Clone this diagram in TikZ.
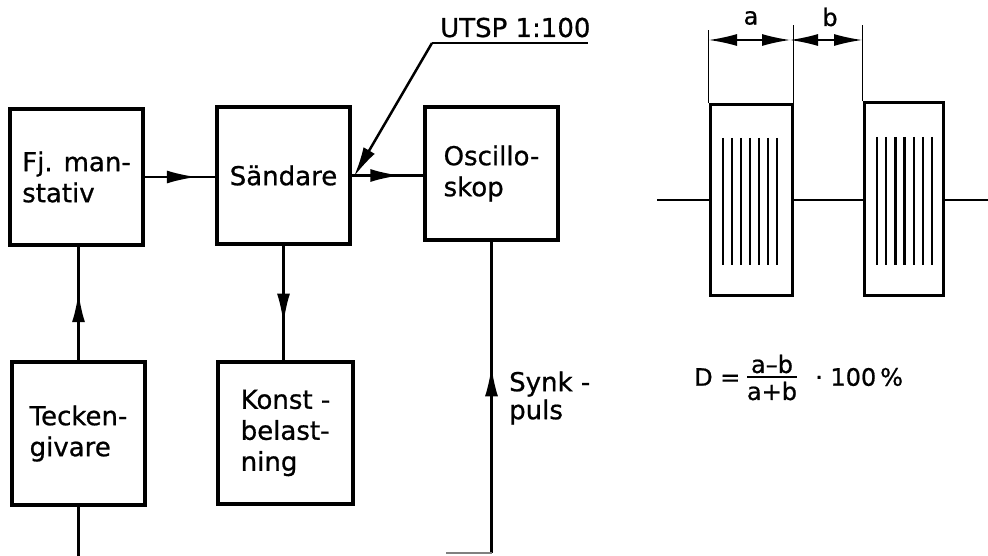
\documentclass[tikz,border=0pt]{standalone}
\usepackage{fontspec}
\setmainfont{DejaVu Sans}[BoldFont={DejaVu Sans},BoldFeatures={FakeBold=0.8}]
\usetikzlibrary{arrows.meta,decorations.markings,calc}
\begin{document}
\begin{tikzpicture}[x=1pt,y=-1pt,
  blk/.style={draw,line width=4pt,inner sep=0pt,align=left,
    font=\fontsize{26}{31}\selectfont\bfseries},
  conn/.style={line width=2.5pt},
  tip/.style={-{Latex[length=30pt,width=13pt]}},
  midarrow/.style={postaction={decorate},decoration={markings,
    mark=at position #1 with {\arrow{Latex[length=30pt,width=13pt]}}}},
  pulse/.style={draw,line width=3pt,inner sep=0pt},
  hatch/.style={line width=2.5pt},
  lbl/.style={inner sep=0pt,font=\fontsize{26}{28}\selectfont\bfseries,align=left},
  frm/.style={inner sep=0pt,font=\fontsize{24}{26}\selectfont\bfseries},
  dimtip/.style={{Latex[length=28pt,width=12pt]}-{Latex[length=28pt,width=12pt]}},
]
\useasboundingbox (0,0) rectangle (988,556);

% ---------- block diagram ----------
\node[blk,minimum width=133pt,minimum height=136pt] (fj) at (76.5,177) {Fj. man-\\stativ};
\node[blk,minimum width=133pt,minimum height=137pt] (sand) at (283.5,175.5) {Sändare};
\node[blk,minimum width=133pt,minimum height=133pt] (osc) at (491.5,173.5) {Oscillo-\\skop};
\node[blk,minimum width=133pt,minimum height=143pt] (teck) at (78.5,433.5) {Tecken-\\givare};
\node[blk,minimum width=135pt,minimum height=142pt] (konst) at (285.5,433) {Konst -\\belast-\\ning};

\coordinate (tbot) at (78.5,556);
\coordinate (sbot) at (490,553);
\coordinate (sdot) at (446,553);
\coordinate (tap) at (354,176.5);
\coordinate (utspL) at (432,43);
\coordinate (utspR) at (588,43);

\draw[conn,midarrow=0.74] (fj.east) -- (fj.east -| sand.west);
\draw[conn,midarrow=0.68] (sand.east) -- (sand.east -| osc.west);
\draw[conn,midarrow=0.68] (sand.south) -- (sand.south |- konst.north);
\draw[conn,midarrow=0.6] (teck.north) -- (teck.north |- fj.south);
\draw[conn] (teck.south) -- (tbot);
\draw[conn,midarrow=0.6] (osc.south |- sbot) -- (osc.south);
\draw[line width=1.5pt,gray] (sdot) -- (osc.south |- sbot);

\node[inner sep=0pt,anchor=base west,font=\fontsize{26}{28}\selectfont\bfseries] (utsp) at (440,37) {UTSP 1:100};
\draw[line width=2pt] (utspL) -- (utspR);
\draw[conn,tip] (utspL) -- (tap);

\node[lbl,anchor=west] (synk) at (509,398) {Synk -\\puls};

% ---------- pulse diagram ----------
\node[pulse,minimum width=82pt,minimum height=190pt] (p1) at (751,200) {};
\node[pulse,minimum width=79pt,minimum height=192pt] (p2) at (903.5,199) {};
\coordinate (bl) at (657,200);
\coordinate (br) at (988,200);
\draw[line width=2pt] (bl) -- (p1.west);
\draw[line width=2pt] (p1.east) -- (p1.east -| p2.west);
\draw[line width=2pt] (p2.east |- br) -- (br);

\coordinate (da) at (709,40);
\coordinate (db) at (790,40);
\coordinate (dc) at (862,40);
\coordinate (ea) at (709,30);
\coordinate (eb) at (790,25);
\coordinate (ec) at (862,25);
\draw[line width=1.8pt] (p1.north west) -- (p1.north west |- ea);
\draw[line width=1.8pt] (p1.north east) -- (p1.north east |- eb);
\draw[line width=1.8pt] (p2.north west) -- (p2.north west |- ec);
\draw[line width=1.4pt,dimtip] (da) -- (db);
\draw[line width=1.4pt,dimtip] (db) -- (dc);
\node[inner sep=0pt,font=\fontsize{24}{26}\selectfont\bfseries] (la) at (751,18) {a};
\node[inner sep=0pt,font=\fontsize{24}{26}\selectfont\bfseries] (lb) at (830,17) {b};

\foreach \i in {0,...,6} {
  \draw[hatch] (723+9*\i,138) -- (723+9*\i,265);
  \draw[hatch] (877+9.2*\i,137) -- (877+9.2*\i,265);
}

% ---------- formula ----------
\node[frm,anchor=west] (fd) at (694,377) {D =};
\node[frm] (fnum) at (772,364) {a–b};
\node[frm] (fden) at (772,391) {a+b};
\draw[line width=1.6pt] (747,377) -- (797,377);
\node[frm,anchor=west] (fpct) at (815,377) {· 100\,\%};
\end{tikzpicture}
\end{document}
